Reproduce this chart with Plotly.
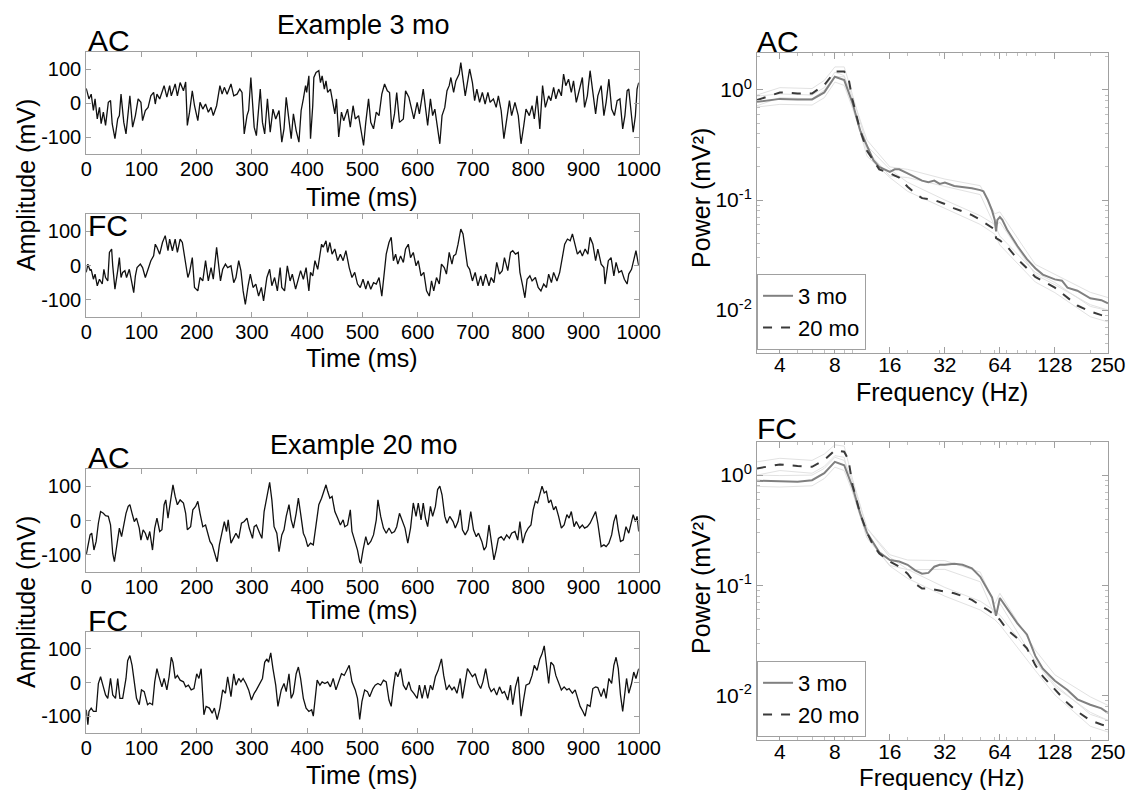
import math
import plotly.graph_objects as go

# ---------------- data ----------------
time_ticks = [0, 100, 200, 300, 400, 500, 600, 700, 800, 900, 1000]
amp_ticks = [-100, 0, 100]
amp_ticktext = ["-100", "0", "100"]

# Example 3 mo, AC  (time ms, amplitude mV)
ac3 = [(0,43),(5,12),(9,26),(13,-22),(16,12),(20,-47),(24,-13),(27,-61),(31,-27),(35,-66),(40,2),(44,7),(47,-61),(52,-105),(57,-47),(60,-37),(63,26),(68,-57),(72,-91),(76,-32),(79,21),(84,-71),(89,-37),(94,12),(99,2),(102,-52),(107,-22),(112,-13),(117,21),(122,31),(125,-3),(128,26),(133,12),(138,36),(141,51),(146,17),(151,51),(154,21),(161,56),(165,21),(170,60),(176,36),(180,62),(183,-66),(187,-27),(192,36),(196,-8),(202,-52),(206,2),(211,-18),(216,-3),(221,-27),(226,-13),(230,-37),(236,-8),(242,51),(246,26),(250,46),(255,26),(262,56),(267,21),(273,26),(278,41),(282,31),(286,-91),(291,-37),(294,-22),(298,75),(301,-13),(304,-71),(308,-96),(312,-18),(315,41),(319,-57),(323,-91),(328,12),(333,-86),(338,-18),(343,-47),(349,-22),(354,-115),(358,-76),(362,17),(366,-37),(371,-105),(375,-32),(380,-81),(385,-115),(389,-22),(393,12),(397,51),(399,31),(403,80),(406,-105),(410,-8),(412,75),(416,90),(421,95),(424,60),(427,80),(431,41),(434,65),(437,31),(442,41),(446,2),(450,-32),(453,12),(457,-100),(462,-27),(466,-52),(473,-18),(478,-71),(483,-8),(487,-47),(493,-37),(497,-76),(502,-125),(506,-57),(511,12),(515,-57),(520,-76),(525,-27),(530,-37),(535,26),(540,56),(545,36),(549,31),(553,-76),(558,-32),(562,31),(567,-57),(574,-47),(578,36),(584,17),(588,-13),(593,-47),(599,2),(603,-32),(610,41),(614,-13),(618,-66),(623,12),(627,-37),(631,-18),(636,-76),(640,-120),(644,-37),(649,-13),(653,36),(657,51),(660,75),(665,31),(669,65),(675,85),(678,119),(682,75),(686,21),(690,60),(694,100),(699,60),(703,7),(707,41),(712,2),(717,31),(722,-3),(727,31),(731,2),(737,12),(742,-13),(746,21),(751,-22),(756,-105),(761,-47),(766,7),(770,-37),(776,2),(782,-37),(787,-120),(792,-66),(796,-18),(802,-37),(807,-8),(811,-47),(816,21),(821,-76),(826,51),(831,-13),(837,21),(841,7),(846,46),(850,12),(855,41),(860,21),(864,85),(868,51),(873,70),(878,31),(882,65),(887,2),(893,41),(898,75),(902,-13),(907,21),(912,95),(917,31),(922,-32),(926,21),(932,51),(937,-37),(941,2),(946,70),(951,-18),(956,-37),(961,7),(966,12),(971,-76),(975,-37),(979,36),(982,41),(987,-37),(990,-86),(994,-37),(997,41),(1000,60)]

# Example 3 mo, FC
fc3 = [(0,-20),(3,4),(7,-15),(9,-11),(13,-40),(16,-25),(20,-59),(24,-40),(29,-54),(32,-11),(35,-35),(39,-45),(42,38),(46,48),(48,-1),(52,-69),(57,-15),(60,23),(63,-35),(66,-20),(70,-15),(73,-35),(78,-11),(83,-50),(86,-79),(89,-30),(92,-6),(98,4),(102,-6),(107,-35),(112,-11),(117,14),(122,28),(125,62),(128,53),(133,33),(138,67),(143,87),(148,43),(151,77),(156,43),(161,77),(165,38),(170,77),(174,67),(178,23),(184,-35),(187,-20),(192,23),(196,-64),(202,-74),(206,-35),(211,-45),(216,14),(221,-45),(226,-6),(230,-40),(236,53),(239,14),(243,-45),(247,-11),(252,4),(256,-6),(262,-1),(267,-50),(271,-35),(276,14),(280,-15),(284,-74),(288,-113),(293,-59),(297,-25),(302,-64),(307,-54),(312,-89),(317,-64),(321,-103),(327,-35),(332,-11),(336,-59),(341,-35),(346,-74),(351,-6),(354,-64),(359,-74),(364,-1),(369,-45),(373,-25),(379,-69),(384,-35),(388,-15),(393,-40),(398,-6),(403,-74),(406,-20),(410,-30),(414,14),(419,-11),(423,33),(426,62),(429,53),(434,72),(437,38),(441,67),(445,33),(450,48),(455,14),(460,33),(465,14),(470,43),(476,-6),(481,-35),(486,-20),(491,-54),(496,-64),(501,-40),(506,-69),(510,-45),(515,-69),(520,-50),(525,-54),(530,-35),(535,-89),(539,-35),(543,33),(548,67),(552,82),(556,14),(560,33),(564,4),(569,28),(574,9),(578,48),(583,62),(587,23),(592,38),(597,-1),(601,14),(606,-30),(611,-20),(616,-74),(621,-89),(625,-45),(629,-74),(634,-35),(639,-54),(643,4),(648,-6),(652,-25),(657,38),(662,4),(665,28),(669,33),(673,62),(678,106),(682,92),(686,43),(690,-1),(694,-11),(699,-45),(704,-20),(709,-59),(714,-30),(718,-59),(723,-25),(729,-59),(733,-35),(738,-50),(743,9),(748,-25),(753,-15),(757,23),(763,-15),(768,38),(772,43),(777,33),(782,38),(785,-20),(790,-59),(794,-94),(798,-40),(803,-30),(807,-45),(813,-35),(818,-64),(823,-74),(828,-54),(833,-64),(837,-25),(842,-50),(846,-20),(852,-45),(857,-20),(862,23),(866,62),(871,77),(876,72),(880,92),(884,67),(889,33),(894,43),(898,28),(903,48),(908,33),(912,82),(917,62),(922,14),(926,48),(932,4),(937,-6),(939,-54),(945,14),(950,23),(955,-30),(959,9),(964,-20),(969,-15),(974,-40),(979,-54),(982,-25),(987,-11),(991,14),(995,43),(1000,-1)]

# Example 20 mo, AC
ac20 = [(0,-100),(3,-76),(7,-42),(10,-37),(14,-86),(18,-61),(22,-8),(26,26),(31,21),(35,14),(40,12),(44,-13),(48,-96),(51,-120),(55,-71),(60,-22),(64,-47),(68,-8),(72,21),(76,41),(79,46),(83,21),(87,-3),(91,7),(96,-22),(99,-57),(103,-27),(107,-37),(111,-57),(115,-32),(120,-86),(124,-22),(128,7),(133,-32),(137,-27),(141,46),(144,60),(148,7),(152,51),(157,104),(161,70),(165,46),(170,60),(176,51),(180,21),(183,-27),(189,-18),(193,31),(198,41),(202,56),(206,21),(211,-18),(216,-13),(220,-37),(224,-61),(228,-71),(232,-96),(237,-120),(241,-71),(245,-37),(250,-3),(254,-32),(257,2),(262,-66),(267,-52),(271,-37),(276,-52),(281,-8),(286,-3),(291,7),(295,-22),(301,-52),(304,-18),(308,-13),(314,-37),(318,-52),(322,26),(325,51),(329,90),(332,111),(336,60),(340,-18),(345,-37),(349,-91),(354,-42),(358,-27),(362,12),(367,46),(371,2),(375,-22),(380,21),(384,65),(388,21),(393,-37),(397,-52),(401,-76),(406,-66),(411,-71),(416,-13),(421,46),(426,65),(429,80),(434,104),(437,85),(441,65),(445,70),(450,26),(455,7),(460,-13),(465,2),(468,-18),(473,-13),(478,31),(481,-32),(486,-61),(491,-86),(495,-120),(497,-125),(501,-86),(506,-47),(510,-71),(515,-61),(520,-42),(525,2),(528,60),(533,12),(538,-22),(543,-37),(548,-22),(553,-37),(558,-32),(562,-18),(567,21),(573,-8),(577,-22),(582,-66),(587,-22),(592,51),(597,12),(601,51),(606,2),(610,51),(614,7),(618,-18),(623,41),(627,12),(632,41),(636,90),(640,100),(644,75),(649,12),(653,-8),(658,12),(664,-3),(668,-22),(673,-3),(677,31),(681,-27),(686,-42),(691,-27),(696,26),(701,-27),(706,-47),(710,-37),(716,-61),(720,-86),(724,-76),(729,-13),(733,-66),(738,-115),(742,-86),(746,-52),(751,-47),(756,-57),(761,-42),(766,-52),(770,-37),(776,-32),(781,-57),(785,-3),(790,-66),(795,-37),(800,-22),(805,-13),(809,31),(813,56),(817,51),(821,80),(825,100),(829,80),(833,85),(837,51),(841,60),(846,31),(850,41),(855,12),(860,-22),(865,-13),(870,17),(874,7),(878,26),(883,-18),(887,-3),(893,-22),(898,-13),(902,-22),(907,-18),(912,-8),(917,7),(922,26),(926,-8),(932,-76),(937,-71),(941,-76),(946,-66),(951,-42),(955,-3),(959,17),(963,-27),(967,-61),(972,-57),(977,-18),(982,-37),(987,2),(990,17),(994,-3),(997,12),(1000,-32)]

# Example 20 mo, FC
fc20 = [(0,-81),(3,-125),(5,-86),(9,-76),(13,-86),(18,-86),(22,-3),(26,17),(31,-13),(35,-37),(39,-47),(44,12),(48,-37),(53,-47),(57,12),(61,-47),(66,-47),(72,12),(75,65),(79,80),(83,51),(87,2),(91,-47),(96,-66),(100,-22),(105,-27),(111,-66),(115,-61),(120,-66),(124,2),(128,41),(131,21),(137,-13),(141,12),(146,-22),(150,17),(154,75),(157,60),(161,12),(165,21),(170,7),(176,2),(180,-13),(185,-8),(190,-22),(195,-18),(200,26),(204,12),(208,41),(213,-96),(217,-71),(223,-76),(228,-91),(232,-76),(237,-110),(242,-76),(247,-22),(252,-32),(256,17),(262,-42),(267,26),(271,-8),(276,12),(280,2),(284,12),(289,-3),(294,-22),(299,-52),(304,-32),(308,-22),(314,-3),(319,12),(323,60),(327,70),(330,60),(334,88),(338,41),(343,-8),(347,-71),(353,-22),(358,-3),(362,-27),(367,26),(371,-47),(375,-32),(380,26),(384,46),(388,12),(393,-47),(398,-76),(403,-86),(408,-81),(411,-100),(415,-37),(418,7),(423,-8),(427,2),(432,-3),(437,2),(442,-13),(447,12),(452,-22),(457,2),(462,26),(467,21),(471,36),(476,51),(481,2),(487,-22),(491,-47),(495,-110),(499,-57),(504,-22),(509,-27),(513,-42),(519,-18),(523,-8),(528,-3),(533,-8),(538,7),(543,2),(548,-52),(552,-71),(556,-13),(560,31),(564,17),(569,41),(574,-8),(579,-22),(584,2),(588,-22),(593,-32),(599,-47),(603,-8),(608,-47),(613,-8),(618,-47),(623,-8),(627,-22),(632,17),(637,36),(643,70),(647,21),(652,-22),(657,-8),(662,-22),(666,-13),(671,-32),(677,12),(681,-47),(686,7),(690,41),(694,31),(699,17),(704,26),(709,-3),(714,-18),(718,2),(723,41),(729,-13),(733,-27),(738,-18),(743,-37),(748,-13),(753,-32),(757,-27),(763,-52),(768,-8),(772,-66),(777,-13),(782,17),(787,-100),(792,-47),(796,-8),(802,-3),(807,21),(811,51),(816,36),(821,70),(825,85),(829,109),(833,51),(837,-3),(841,60),(846,51),(850,21),(855,2),(860,-22),(865,-13),(870,-22),(874,-18),(880,-32),(885,-22),(889,-42),(894,-71),(899,-86),(903,-100),(907,-66),(912,-71),(917,-18),(922,-13),(926,-15),(932,-42),(937,-18),(941,-47),(946,12),(951,-3),(955,51),(959,75),(963,41),(967,-37),(971,-86),(974,-47),(978,12),(982,-32),(987,-3),(991,31),(995,12),(1000,41)]

# Power spectra (Hz, mV^2)
ac_f_3mo = [3,4,5,6,7,8,9,10,11,12,13,14,15,16,17,18,20,22,24,26,28,30,32,36,40,45,50,52,55,58,60,61,62,64,66,70,80,90,100,110,128,140,150,170,200,230,250]
ac_p_3mo = [0.78,0.83,0.82,0.82,0.95,1.32,1.23,0.76,0.43,0.31,0.23,0.20,0.19,0.18,0.19,0.19,0.175,0.16,0.15,0.145,0.15,0.14,0.144,0.134,0.132,0.128,0.123,0.12,0.10,0.08,0.066,0.052,0.066,0.07,0.066,0.054,0.038,0.029,0.024,0.021,0.019,0.0185,0.0160,0.015,0.0128,0.0123,0.0115]
ac_f_20mo = [3,4,5,6,7,8,9,9.5,10,11,12,13,14,16,18,20,22,24,28,32,36,40,45,50,55,60,61,64,70,80,90,100,128,150,170,200,230,250]
ac_p_20mo = [0.81,0.95,0.93,0.93,1.11,1.47,1.47,1.28,0.81,0.43,0.28,0.23,0.19,0.175,0.16,0.132,0.115,0.104,0.10,0.092,0.084,0.079,0.073,0.066,0.059,0.054,0.045,0.043,0.038,0.029,0.024,0.020,0.016,0.013,0.011,0.0097,0.0090,0.0088]

fc_f_3mo = [3,4,5,6,7,8,9,10,11,12,13,14,16,18,20,22,24,26,28,30,32,36,40,45,50,55,58,61,64,70,80,90,100,110,128,150,170,200,230,250]
fc_p_3mo = [0.89,0.88,0.87,0.90,1.04,1.32,1.23,0.78,0.45,0.30,0.24,0.20,0.17,0.165,0.154,0.137,0.128,0.13,0.148,0.154,0.154,0.157,0.154,0.143,0.12,0.09,0.078,0.053,0.077,0.062,0.045,0.036,0.023,0.0176,0.0137,0.0113,0.0093,0.0083,0.0077,0.0070]
fc_f_20mo = [3,4,5,6,7,8,9,9.5,10,11,12,13,14,16,18,20,22,24,26,28,32,36,40,45,50,55,60,64,70,80,90,100,110,128,150,170,200,230,250]
fc_p_20mo = [1.15,1.25,1.21,1.19,1.37,1.68,1.63,1.37,0.81,0.45,0.30,0.23,0.195,0.165,0.148,0.128,0.104,0.094,0.094,0.092,0.088,0.085,0.08,0.074,0.066,0.06,0.054,0.049,0.040,0.033,0.027,0.019,0.015,0.0114,0.0086,0.0072,0.006,0.0055,0.0053]

# faint error bands (upper / lower) read at coarse frequencies
band_f = [3,4,6,7,8,9,10,12,16,20,32,50,60,64,100,128,200,250]
ac_up_3mo = [0.88,0.92,0.90,1.05,1.45,1.35,0.85,0.35,0.20,0.19,0.155,0.135,0.075,0.078,0.026,0.021,0.0145,0.013]
ac_lo_3mo = [0.70,0.74,0.73,0.85,1.18,1.10,0.68,0.28,0.165,0.16,0.133,0.112,0.058,0.063,0.021,0.017,0.0112,0.0100]
ac_up_20mo = [0.90,1.05,1.03,1.22,1.62,1.62,0.90,0.31,0.19,0.145,0.10,0.072,0.060,0.047,0.022,0.0178,0.0108,0.0099]
ac_lo_20mo = [0.72,0.85,0.83,1.00,1.32,1.32,0.72,0.25,0.16,0.12,0.084,0.060,0.049,0.039,0.018,0.0144,0.0087,0.0078]
fc_up_3mo = [1.0,0.99,1.0,1.15,1.45,1.36,0.87,0.33,0.19,0.17,0.168,0.132,0.068,0.085,0.026,0.0155,0.0098,0.0082]
fc_lo_3mo = [0.79,0.78,0.80,0.93,1.18,1.10,0.70,0.27,0.152,0.139,0.14,0.108,0.054,0.069,0.0205,0.0121,0.0071,0.0060]
fc_up_20mo = [1.32,1.42,1.36,1.55,1.88,1.83,0.92,0.33,0.18,0.14,0.096,0.072,0.059,0.054,0.021,0.0127,0.0068,0.006]
fc_lo_20mo = [1.0,1.1,1.04,1.2,1.5,1.45,0.71,0.27,0.15,0.116,0.08,0.06,0.049,0.044,0.017,0.0102,0.0053,0.0047]

freq_ticks = [4, 8, 16, 32, 64, 128, 250]
power_ticks = [0.01, 0.1, 1]
power_ticktext = ["10<sup>-2</sup>", "10<sup>-1</sup>", "10<sup>0</sup>"]
freq_minor = [5, 6, 7, 9, 10, 20, 30, 40, 50, 60, 70, 80, 90, 100, 200]
power_minor = [0.005, 0.006, 0.007, 0.008, 0.009, 0.02, 0.03, 0.04, 0.05, 0.06, 0.07, 0.08, 0.09,
               0.2, 0.3, 0.4, 0.5, 0.6, 0.7, 0.8, 0.9, 2]

# ---------------- layout helpers ----------------
W, H = 1134, 790
# the page is shown with the plot drawn ~1103 px wide, offset 8 px from the left
XOFF, PLOTW = 8, 1103
FONT = "Liberation Sans, Arial, Helvetica, sans-serif"
FRAME = "#a0a0a0"


def X(px):
    return (px - XOFF) / PLOTW


def Y(py):
    return 1 - py / H


fig = go.Figure()

ts_panels = [
    (ac3, 52, 154),
    (fc3, 214, 317),
    (ac20, 469, 572),
    (fc20, 632, 733),
]

layout = dict(
    width=W, height=H,
    margin=dict(l=0, r=0, t=0, b=0, pad=0),
    paper_bgcolor="white", plot_bgcolor="white",
    font=dict(family=FONT, color="black"),
    showlegend=True,
)

for i, (series, top, bot) in enumerate(ts_panels, start=1):
    t = [p[0] for p in series]
    v = [p[1] for p in series]
    fig.add_trace(go.Scatter(x=t, y=v, mode="lines", xaxis=f"x{i}", yaxis=f"y{i}",
                             line=dict(color="#111111", width=1.3), showlegend=False,
                             hoverinfo="skip"))
    layout[f"xaxis{i}"] = dict(
        domain=[X(88), X(639)], anchor=f"y{i}", range=[0, 1000],
        tickmode="array", tickvals=time_ticks, ticktext=[str(v) for v in time_ticks],
        ticks="inside", ticklen=5, tickcolor=FRAME, showline=True, linecolor=FRAME,
        linewidth=1, mirror="ticks", showgrid=False, zeroline=False,
        ticklabelstandoff=-3,
        tickfont=dict(size=20), fixedrange=True)
    layout[f"yaxis{i}"] = dict(
        domain=[Y(bot), Y(top)], anchor=f"x{i}", range=[-150, 150],
        tickmode="array", tickvals=amp_ticks, ticktext=amp_ticktext,
        ticks="inside", ticklen=5, tickcolor=FRAME, showline=True, linecolor=FRAME,
        linewidth=1, mirror="ticks", showgrid=False, zeroline=False,
        tickfont=dict(size=20), fixedrange=True)

spec_panels = [
    (5, ac_f_3mo, ac_p_3mo, ac_f_20mo, ac_p_20mo,
     (ac_up_3mo, ac_lo_3mo, ac_up_20mo, ac_lo_20mo), 53, 353, "legend", 0.336, -2.39),
    (6, fc_f_3mo, fc_p_3mo, fc_f_20mo, fc_p_20mo,
     (fc_up_3mo, fc_lo_3mo, fc_up_20mo, fc_lo_20mo), 442, 740, "legend2", 0.30, -2.40),
]

for (i, f3, p3, f20, p20, bands, top, bot, leg, ymax, ymin) in spec_panels:
    for b in bands:
        fig.add_trace(go.Scatter(x=band_f, y=b, mode="lines", xaxis=f"x{i}", yaxis=f"y{i}",
                                 line=dict(color="#e2e2e2", width=1), showlegend=False,
                                 hoverinfo="skip"))
    fig.add_trace(go.Scatter(x=f3, y=p3, mode="lines", xaxis=f"x{i}", yaxis=f"y{i}",
                             name="3 mo", legend=leg,
                             line=dict(color="#808080", width=2)))
    fig.add_trace(go.Scatter(x=f20, y=p20, mode="lines", xaxis=f"x{i}", yaxis=f"y{i}",
                             name="20 mo", legend=leg,
                             line=dict(color="#3a3a3a", width=2, dash="dash")))
    layout[f"xaxis{i}"] = dict(
        domain=[X(757), X(1107)], anchor=f"y{i}", type="log",
        range=[math.log10(3), math.log10(250)],
        tickmode="array", tickvals=freq_ticks, ticktext=[str(v) for v in freq_ticks],
        ticks="inside", ticklen=6, tickcolor=FRAME, showline=True, linecolor=FRAME,
        linewidth=1, mirror="ticks", showgrid=False, zeroline=False,
        ticklabelstandoff=-7,
        minor=dict(tickmode="array", tickvals=freq_minor, ticks="inside", ticklen=3,
                   tickcolor="#c0c0c0", showgrid=False),
        tickfont=dict(size=21), fixedrange=True)
    layout[f"yaxis{i}"] = dict(
        domain=[Y(bot), Y(top)], anchor=f"x{i}", type="log", range=[ymin, ymax],
        tickmode="array", tickvals=power_ticks, ticktext=power_ticktext,
        ticks="inside", ticklen=6, tickcolor=FRAME, showline=True, linecolor=FRAME,
        linewidth=1, mirror="ticks", showgrid=False, zeroline=False,
        minor=dict(tickmode="array", tickvals=power_minor, ticks="inside", ticklen=3,
                   tickcolor="#c0c0c0", showgrid=False),
        tickfont=dict(size=21), fixedrange=True)

legend_style = dict(xanchor="left", yanchor="bottom", bgcolor="white", bordercolor=FRAME,
                    borderwidth=1, font=dict(size=22), itemwidth=30, tracegroupgap=0)
layout["legend"] = dict(x=X(757), y=Y(350), **legend_style)
layout["legend2"] = dict(x=X(757), y=Y(737), **legend_style)

ann = []


def text(s, xp, yp, size, xanchor="center", angle=0):
    ann.append(dict(text=s, x=X(xp), y=Y(yp), xref="paper", yref="paper",
                    xanchor=xanchor, yanchor="middle", showarrow=False,
                    textangle=angle, font=dict(size=size, family=FONT, color="black")))


text("Example 3 mo", 365, 25, 27)
text("Example 20 mo", 365, 445, 27)
text("AC", 88, 40, 30, xanchor="left")
text("FC", 88, 226, 30, xanchor="left")
text("AC", 88, 457, 30, xanchor="left")
text("FC", 88, 620, 30, xanchor="left")
text("AC", 755, 41, 30, xanchor="left")
text("FC", 755, 428, 30, xanchor="left")
for yp in (197, 358, 610, 775):
    text("Time (ms)", 363, yp, 25)
text("Frequency (Hz)", 941, 392, 25)
text("Frequency (Hz)", 941, 777, 24)
text("Amplitude (mV)", 28, 185, 25, angle=-90)
text("Amplitude (mV)", 28, 602, 25, angle=-90)
text("Power (mV²)", 701, 198, 25, angle=-90)
text("Power (mV²)", 701, 584, 25, angle=-90)

layout["annotations"] = ann
fig.update_layout(**layout)
fig.write_html("out.html", config={"displayModeBar": False})
